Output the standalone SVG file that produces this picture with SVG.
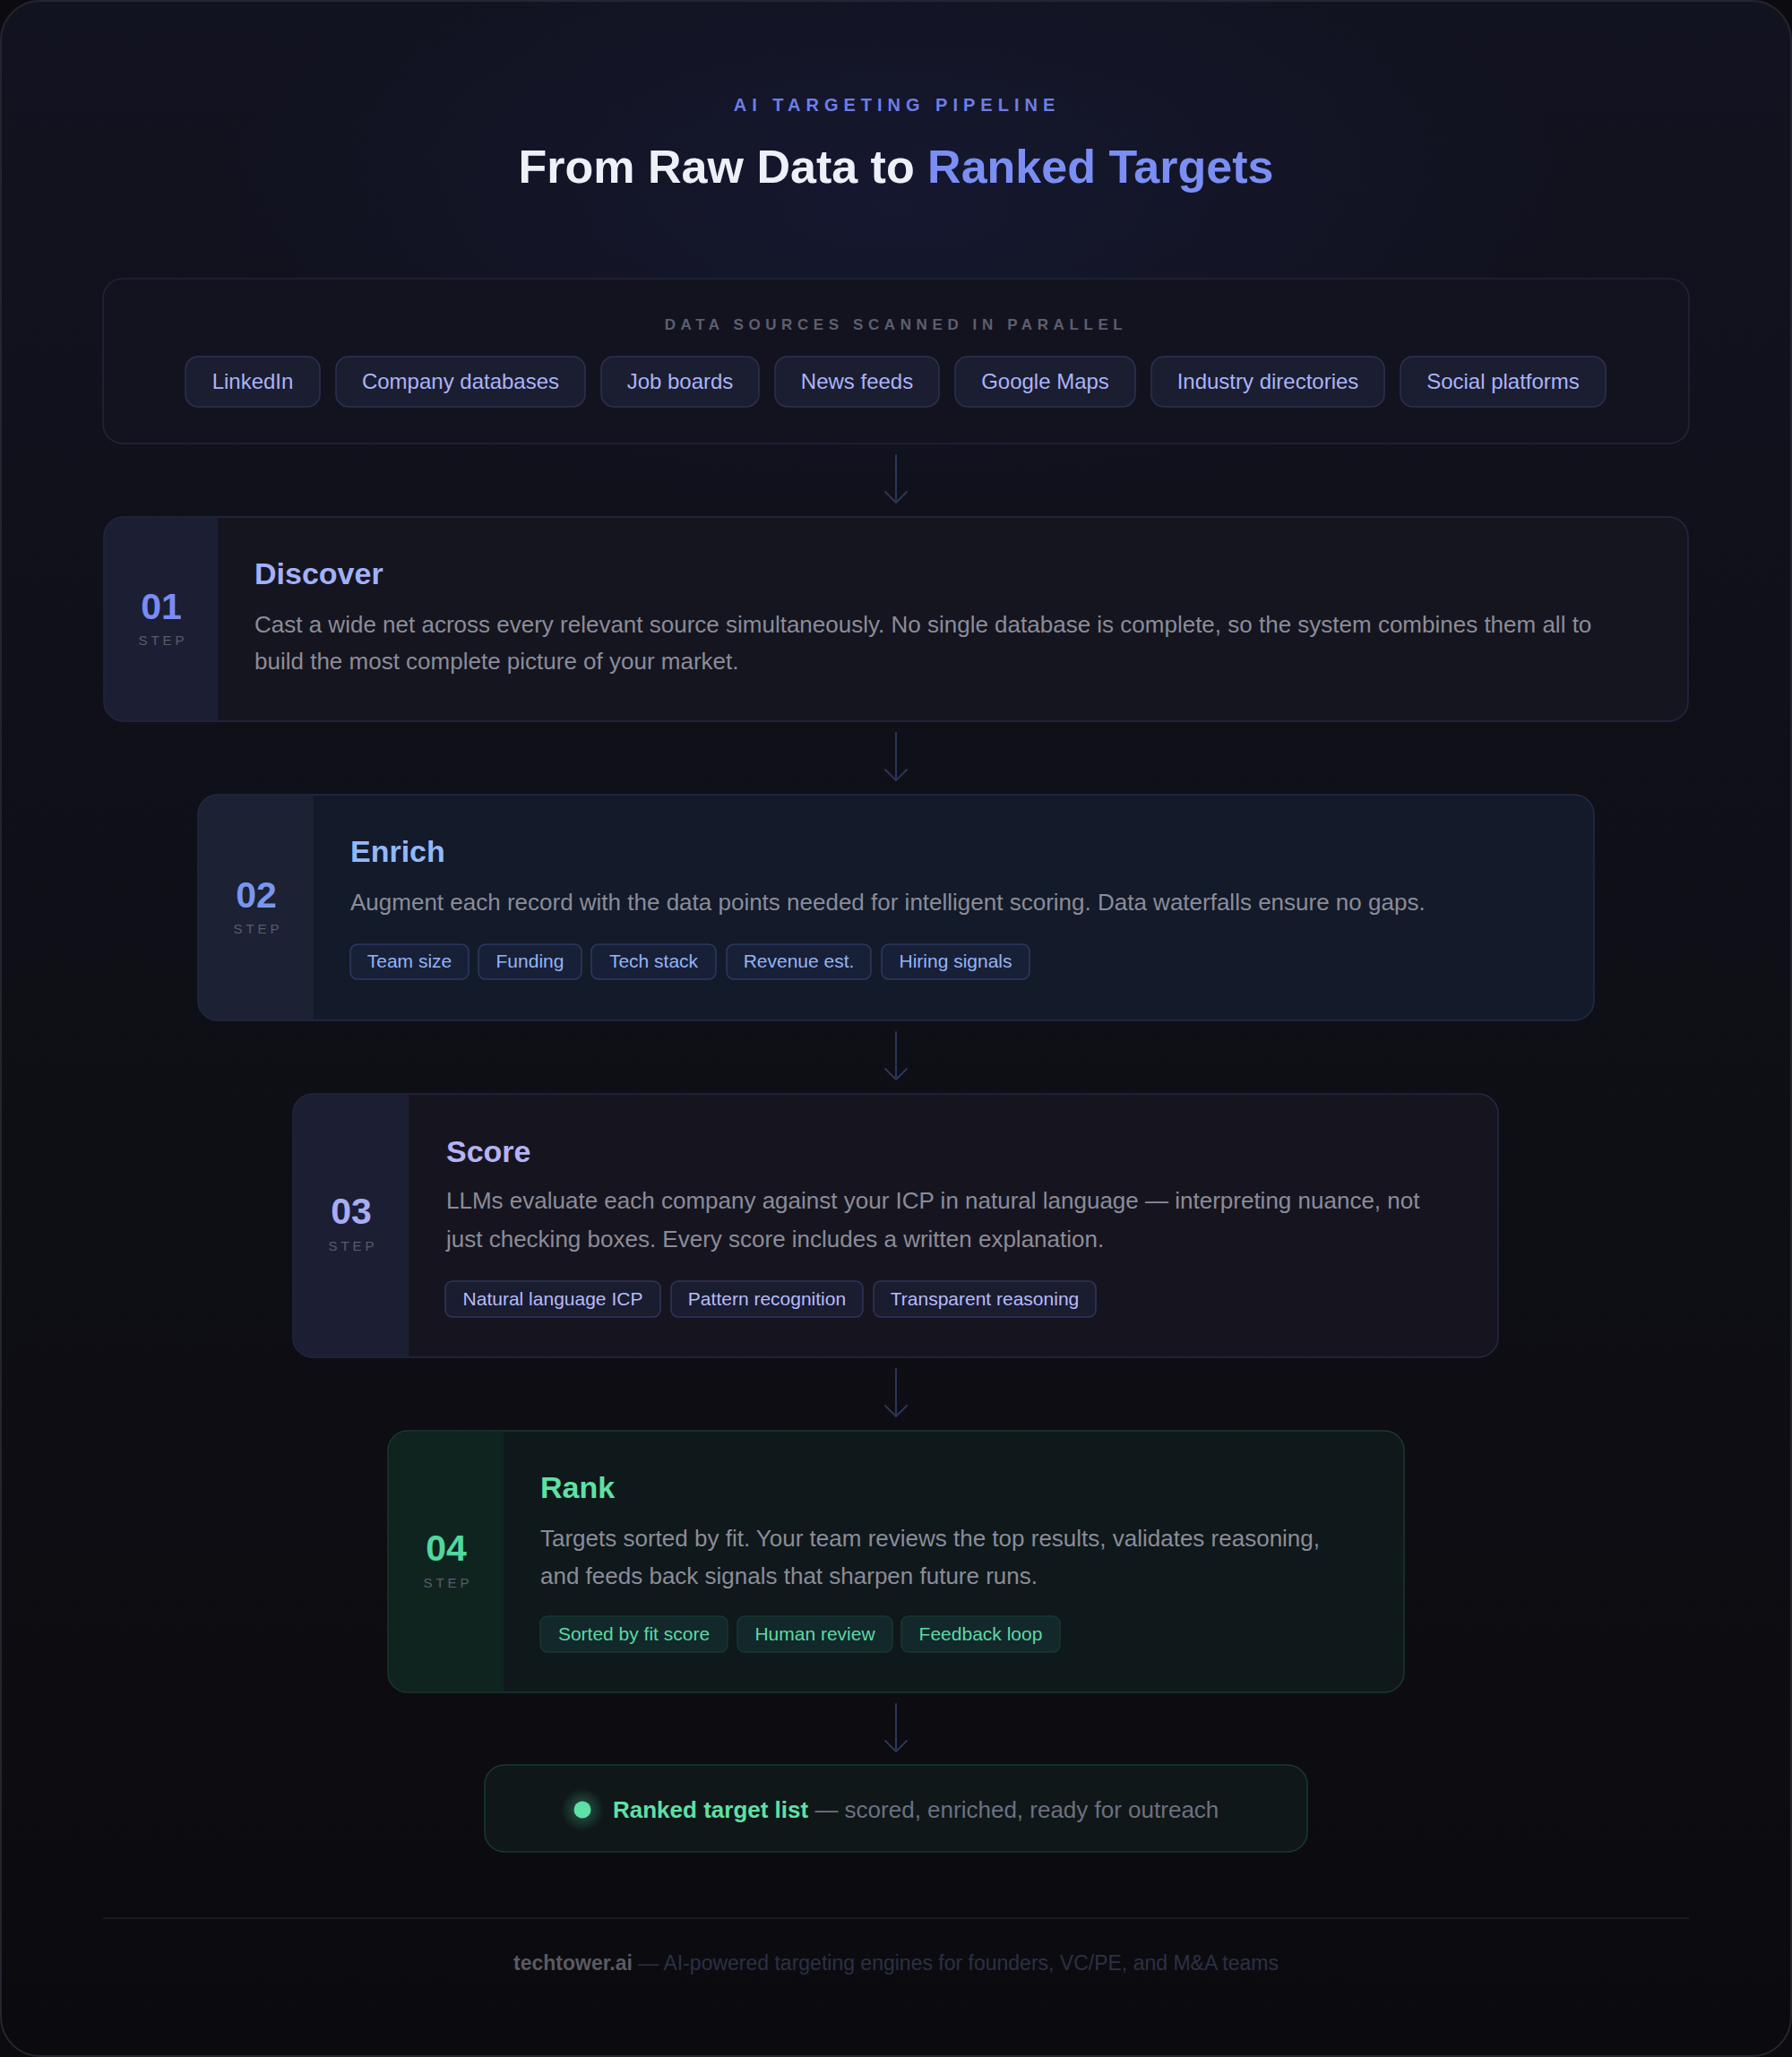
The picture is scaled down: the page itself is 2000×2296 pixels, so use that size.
<svg xmlns="http://www.w3.org/2000/svg" width="2000" height="2296" viewBox="0 0 2000 2296">
  <defs>
    <linearGradient id="bg" x1="0" y1="0" x2="0" y2="1">
      <stop offset="0" stop-color="#121320"/>
      <stop offset="0.45" stop-color="#0f0f17"/>
      <stop offset="1" stop-color="#0b0b0f"/>
    </linearGradient>
    <radialGradient id="glow" cx="0.5" cy="0.5" r="0.5">
      <stop offset="0" stop-color="#1c2250" stop-opacity="0.35"/>
      <stop offset="1" stop-color="#1c2250" stop-opacity="0"/>
    </radialGradient>
    <radialGradient id="dotglow" cx="0.5" cy="0.5" r="0.5">
      <stop offset="0" stop-color="#5ee0a8" stop-opacity="0.35"/>
      <stop offset="1" stop-color="#5ee0a8" stop-opacity="0"/>
    </radialGradient>
    <style>
      text { font-family: "Liberation Sans", Arial, sans-serif; }
      .eyebrow { font-size: 20px; font-weight: 700; fill: #6d7ee6; letter-spacing: 6px; }
      .title { font-size: 52px; font-weight: 700; fill: #eef0f8; }
      .srclabel { font-size: 17px; font-weight: 700; fill: #5d5f6e; letter-spacing: 5.6px; }
      .chip { fill: #1b1d30; stroke: #2c3050; stroke-width: 1.5; }
      .chiptxt { font-size: 24px; fill: #a9b4f8; text-anchor: middle; }
      .card { stroke-width: 1.5; }
      .num { font-size: 41px; font-weight: 700; text-anchor: middle; }
      .step { font-size: 15px; fill: #5a5c6c; letter-spacing: 4px; text-anchor: middle; }
      .stitle { font-size: 34px; font-weight: 700; }
      .desc { font-size: 26px; fill: #8b8c99; }
      .tag { stroke-width: 1.5; }
      .tagtxt { font-size: 21px; text-anchor: middle; }
      .arrow { fill: none; stroke: #2b3656; stroke-width: 2; stroke-linecap: round; stroke-linejoin: round; }
    </style>
  </defs>

  <rect x="0" y="0" width="2000" height="2296" fill="#0c0c10"/>
  <rect x="1" y="1" width="1998" height="2294" rx="44" fill="url(#bg)" stroke="#24252e" stroke-width="2"/>
  <ellipse cx="1000" cy="230" rx="760" ry="330" fill="url(#glow)"/>

  <g id="header">
    <text class="eyebrow" x="1001" y="124" text-anchor="middle">AI TARGETING PIPELINE</text>
    <text class="title" x="1000" y="204" text-anchor="middle">From Raw Data to <tspan fill="#7b8ef3">Ranked Targets</tspan></text>
  </g>

  <g id="sources">
    <rect x="115" y="311" width="1770" height="184" rx="22" fill="#13131f" stroke="#22253a" stroke-width="1.5"/>
    <text class="srclabel" x="1000" y="368" text-anchor="middle">DATA SOURCES SCANNED IN PARALLEL</text>
    <g id="src-linkedin"><rect class="chip" x="207" y="398" width="150" height="56" rx="14"/><text class="chiptxt" x="282" y="434">LinkedIn</text></g>
    <g id="src-company"><rect class="chip" x="375" y="398" width="278" height="56" rx="14"/><text class="chiptxt" x="514" y="434">Company databases</text></g>
    <g id="src-jobs"><rect class="chip" x="671" y="398" width="176" height="56" rx="14"/><text class="chiptxt" x="759" y="434">Job boards</text></g>
    <g id="src-news"><rect class="chip" x="865" y="398" width="183" height="56" rx="14"/><text class="chiptxt" x="956.5" y="434">News feeds</text></g>
    <g id="src-maps"><rect class="chip" x="1066" y="398" width="201" height="56" rx="14"/><text class="chiptxt" x="1166.5" y="434">Google Maps</text></g>
    <g id="src-industry"><rect class="chip" x="1285" y="398" width="260" height="56" rx="14"/><text class="chiptxt" x="1415" y="434">Industry directories</text></g>
    <g id="src-social"><rect class="chip" x="1563" y="398" width="229" height="56" rx="14"/><text class="chiptxt" x="1677.5" y="434">Social platforms</text></g>
  </g>

  <g id="connectors">
    <path class="arrow" d="M1000 508 V559 M988 549 L1000 561 L1012 549"/>
    <path class="arrow" d="M1000 818 V869 M988 859 L1000 871 L1012 859"/>
    <path class="arrow" d="M1000 1152 V1203 M988 1193 L1000 1205 L1012 1193"/>
    <path class="arrow" d="M1000 1528 V1579 M988 1569 L1000 1581 L1012 1569"/>
    <path class="arrow" d="M1000 1902 V1953 M988 1943 L1000 1955 L1012 1943"/>
  </g>

  <g id="step1">
    <rect class="card" x="116" y="577" width="1768" height="228" rx="22" fill="#15151f" stroke="#252841"/>
    <path d="M138 577.75 H243 V804.25 H138 A21.25 21.25 0 0 1 116.75 783 V599 A21.25 21.25 0 0 1 138 577.75 Z" fill="#1c1f33"/>
    <text class="num" x="180" y="691" fill="#7a8cf3">01</text>
    <text class="step" x="182" y="720">STEP</text>
    <text class="stitle" x="284" y="652" fill="#a3b0f8">Discover</text>
    <text class="desc" x="284" y="706">Cast a wide net across every relevant source simultaneously. No single database is complete, so the system combines them all to</text>
    <text class="desc" x="284" y="747">build the most complete picture of your market.</text>
  </g>

  <g id="step2">
    <rect class="card" x="221" y="887" width="1558" height="252" rx="22" fill="#131a29" stroke="#242b45"/>
    <path d="M243 887.75 H350 V1138.25 H243 A21.25 21.25 0 0 1 221.75 1117 V909 A21.25 21.25 0 0 1 243 887.75 Z" fill="#1c2133"/>
    <text class="num" x="286" y="1013" fill="#7896f0">02</text>
    <text class="step" x="288" y="1042">STEP</text>
    <text class="stitle" x="391" y="962" fill="#93b8f8">Enrich</text>
    <text class="desc" x="391" y="1016">Augment each record with the data points needed for intelligent scoring. Data waterfalls ensure no gaps.</text>
    <g fill="#182037" stroke="#2c3a60">
      <rect class="tag" x="391" y="1054" width="132" height="39" rx="8"/>
      <rect class="tag" x="534" y="1054" width="115" height="39" rx="8"/>
      <rect class="tag" x="660" y="1054" width="139" height="39" rx="8"/>
      <rect class="tag" x="811" y="1054" width="161" height="39" rx="8"/>
      <rect class="tag" x="984" y="1054" width="165" height="39" rx="8"/>
    </g>
    <g fill="#93b4f5">
      <text class="tagtxt" x="457" y="1080">Team size</text>
      <text class="tagtxt" x="591.5" y="1080">Funding</text>
      <text class="tagtxt" x="729.5" y="1080">Tech stack</text>
      <text class="tagtxt" x="891.5" y="1080">Revenue est.</text>
      <text class="tagtxt" x="1066.5" y="1080">Hiring signals</text>
    </g>
  </g>

  <g id="step3">
    <rect class="card" x="327" y="1221" width="1345" height="294" rx="22" fill="#16151f" stroke="#252841"/>
    <path d="M349 1221.75 H456 V1514.25 H349 A21.25 21.25 0 0 1 327.75 1493 V1243 A21.25 21.25 0 0 1 349 1221.75 Z" fill="#1c1f33"/>
    <text class="num" x="392" y="1366" fill="#a9acf5">03</text>
    <text class="step" x="394" y="1396">STEP</text>
    <text class="stitle" x="498" y="1297" fill="#b5b3f5">Score</text>
    <text class="desc" x="498" y="1349">LLMs evaluate each company against your ICP in natural language — interpreting nuance, not</text>
    <text class="desc" x="498" y="1392">just checking boxes. Every score includes a written explanation.</text>
    <g fill="#1a1c30" stroke="#30345a">
      <rect class="tag" x="497" y="1430" width="240" height="40" rx="8"/>
      <rect class="tag" x="749" y="1430" width="214" height="40" rx="8"/>
      <rect class="tag" x="975" y="1430" width="248" height="40" rx="8"/>
    </g>
    <g fill="#b7bbf8">
      <text class="tagtxt" x="617" y="1457">Natural language ICP</text>
      <text class="tagtxt" x="856" y="1457">Pattern recognition</text>
      <text class="tagtxt" x="1099" y="1457">Transparent reasoning</text>
    </g>
  </g>

  <g id="step4">
    <rect class="card" x="433" y="1597" width="1134" height="292" rx="22" fill="#0f181b" stroke="#193a30"/>
    <path d="M455 1597.75 H562 V1888.25 H455 A21.25 21.25 0 0 1 433.75 1867 V1619 A21.25 21.25 0 0 1 455 1597.75 Z" fill="#10241f"/>
    <text class="num" x="498" y="1742" fill="#4fd9a0">04</text>
    <text class="step" x="500" y="1772">STEP</text>
    <text class="stitle" x="603" y="1672" fill="#5fe0a5">Rank</text>
    <text class="desc" x="603" y="1726">Targets sorted by fit. Your team reviews the top results, validates reasoning,</text>
    <text class="desc" x="603" y="1768">and feeds back signals that sharpen future runs.</text>
    <g fill="#12282a" stroke="#17382f">
      <rect class="tag" x="603" y="1804" width="209" height="40" rx="8"/>
      <rect class="tag" x="823" y="1804" width="173" height="40" rx="8"/>
      <rect class="tag" x="1006" y="1804" width="177" height="40" rx="8"/>
    </g>
    <g fill="#5ed8a5">
      <text class="tagtxt" x="707.5" y="1831">Sorted by fit score</text>
      <text class="tagtxt" x="909.5" y="1831">Human review</text>
      <text class="tagtxt" x="1094.5" y="1831">Feedback loop</text>
    </g>
  </g>

  <g id="result">
    <rect x="541" y="1970" width="918" height="97" rx="22" fill="#0f1719" stroke="#193a30" stroke-width="1.5"/>
    <circle cx="650" cy="2020" r="24" fill="url(#dotglow)"/>
    <circle cx="650" cy="2020" r="9.5" fill="#5ee0a8"/>
    <text x="684" y="2029" font-size="26"><tspan font-weight="700" fill="#5fe0a5">Ranked target list</tspan><tspan fill="#6e7080"> — scored, enriched, ready for outreach</tspan></text>
  </g>

  <g id="footer">
    <line x1="115" y1="2141" x2="1885" y2="2141" stroke="#1a1b23" stroke-width="2"/>
    <text x="1000" y="2199" font-size="23" text-anchor="middle"><tspan font-weight="700" fill="#5a5a62">techtower.ai</tspan><tspan fill="#2c3046"> — AI-powered targeting engines for founders, VC/PE, and M&amp;A teams</tspan></text>
  </g>
</svg>
